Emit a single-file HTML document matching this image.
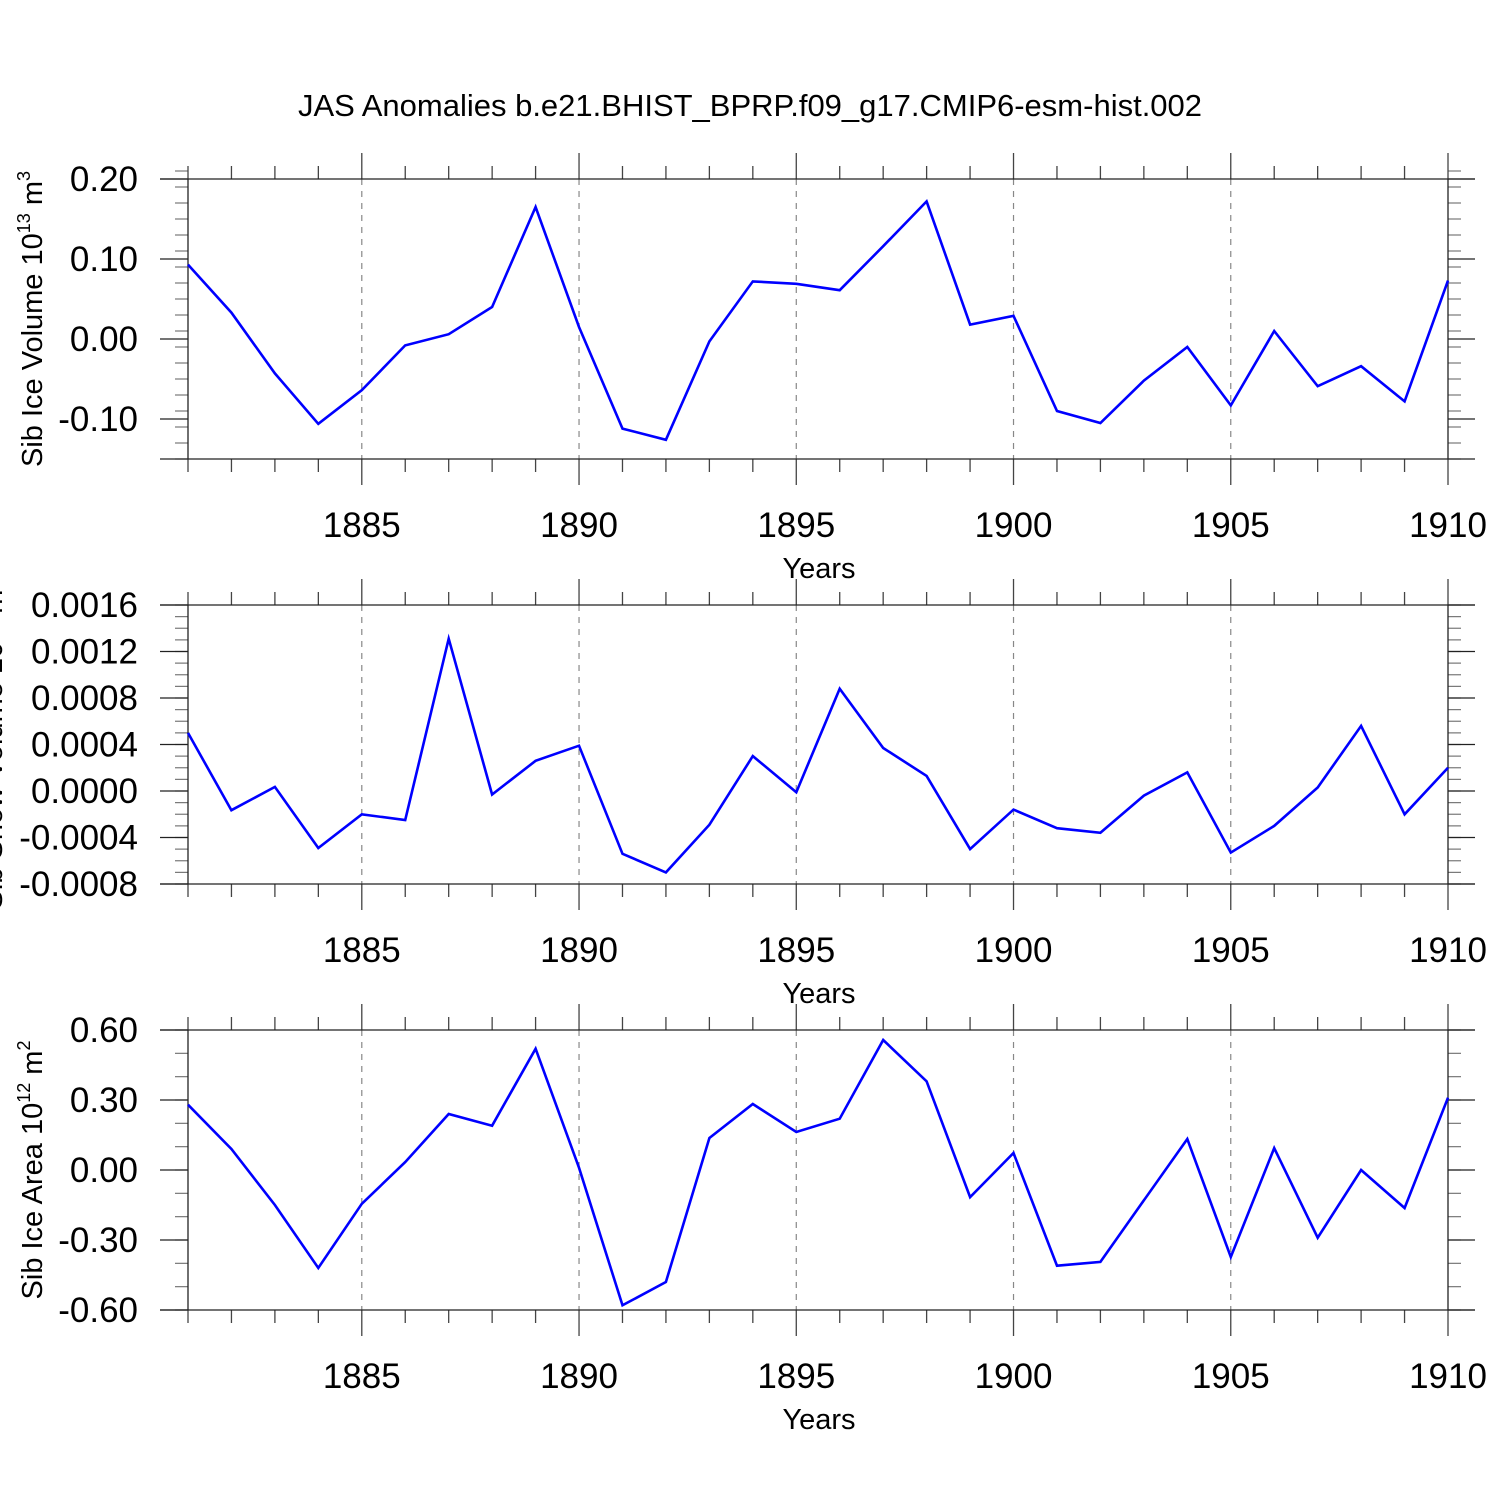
<!DOCTYPE html>
<html><head><meta charset="utf-8"><style>
html,body{margin:0;padding:0;background:#fff;}
svg{display:block;font-family:"Liberation Sans",sans-serif;}
</style></head><body>
<svg id="chart" width="1500" height="1500" viewBox="0 0 1500 1500" xmlns="http://www.w3.org/2000/svg">
<text x="750" y="116" font-size="31" text-anchor="middle">JAS Anomalies b.e21.BHIST_BPRP.f09_g17.CMIP6-esm-hist.002</text>
</svg>
<script>
const years = [1881,1882,1883,1884,1885,1886,1887,1888,1889,1890,1891,1892,1893,1894,1895,1896,1897,1898,1899,1900,1901,1902,1903,1904,1905,1906,1907,1908,1909,1910];
const xTicks = [1885,1890,1895,1900,1905,1910];
const iceVolume = [0.093,0.033,-0.043,-0.106,-0.064,-0.008,0.006,0.040,0.165,0.015,-0.112,-0.126,-0.003,0.072,0.069,0.061,0.116,0.172,0.018,0.029,-0.090,-0.105,-0.052,-0.010,-0.083,0.010,-0.059,-0.034,-0.078,0.073];
const snowVolume = [0.0005,-0.000165,0.000035,-0.00049,-0.0002,-0.00025,0.00131,-0.00003,0.00026,0.00039,-0.00054,-0.0007,-0.00029,0.0003,-0.00001,0.00088,0.00037,0.00013,-0.0005,-0.00016,-0.00032,-0.00036,-0.00004,0.00016,-0.00053,-0.0003,0.00003,0.00056,-0.0002,0.0002];
const iceArea = [0.28,0.09,-0.15,-0.42,-0.145,0.034,0.24,0.19,0.52,0.01,-0.58,-0.48,0.137,0.283,0.163,0.22,0.557,0.38,-0.116,0.073,-0.41,-0.394,-0.13,0.133,-0.373,0.094,-0.29,0.0,-0.163,0.31];
const volTicks = ["0.20","0.10","0.00","-0.10"];
const snowTicks = ["0.0016","0.0012","0.0008","0.0004","0.0000","-0.0004","-0.0008"];
const areaTicks = ["0.60","0.30","0.00","-0.30","-0.60"];

const NS="http://www.w3.org/2000/svg";
const svg=document.getElementById('chart');
function mk(tag,attrs,parent){const e=document.createElementNS(NS,tag);for(const k in attrs)e.setAttribute(k,attrs[k]);(parent||svg).appendChild(e);return e;}
const X0=188,X1=1448;
function xScale(yr){return X0+(yr-1881)/(1910-1881)*(X1-X0);}

const panels=[
 {name:'ice-volume',data:iceVolume,ticks:volTicks,top:179,bot:459,vmax:0.20,vmin:-0.15,minor:0.02,label:'Sib Ice Volume 10',sup:'13',unit:' m',sup2:'3',lx:42},
 {name:'snow-volume',data:snowVolume,ticks:snowTicks,top:605,bot:884,vmax:0.0016,vmin:-0.0008,minor:0.0001,label:'Sib Snow Volume 10',sup:'13',unit:' m',sup2:'3',lx:2},
 {name:'ice-area',data:iceArea,ticks:areaTicks,top:1030,bot:1310,vmax:0.60,vmin:-0.60,minor:0.1,label:'Sib Ice Area 10',sup:'12',unit:' m',sup2:'2',lx:42}
];
panels.forEach(p=>{
 const g=mk('g',{});
 
 
 const yS=v=>p.top+(p.vmax-v)/(p.vmax-p.vmin)*(p.bot-p.top);
 xTicks.forEach(t=>{ if(t<1910){const l=mk('line',{x1:xScale(t),x2:xScale(t),y1:p.top,y2:p.bot,stroke:'#888','stroke-width':1.2,'stroke-dasharray':'6,6'},g);
  }});
 const n=Math.round((p.vmax-p.vmin)/p.minor);
 for(let i=0;i<=n;i++){const v=p.vmin+i*p.minor,y=yS(v);
  mk('line',{x1:175,x2:X0,y1:y,y2:y,stroke:'#777','stroke-width':1.2},g);
  mk('line',{x1:X1,x2:1461,y1:y,y2:y,stroke:'#777','stroke-width':1.2},g);}
 p.ticks.forEach(t=>{const y=yS(parseFloat(t));
  mk('line',{x1:160,x2:X0,y1:y,y2:y,stroke:'#222','stroke-width':1.3},g);
  mk('line',{x1:X1,x2:1475,y1:y,y2:y,stroke:'#222','stroke-width':1.3},g);
  const tx=mk('text',{x:138,y:y+12,'font-size':35,'text-anchor':'end'},g);tx.textContent=t;
  });
 years.forEach(yr=>{const x=xScale(yr),maj=xTicks.includes(yr),len=maj?26:13;
  mk('line',{x1:x,x2:x,y1:p.top-len,y2:p.top,stroke:'#444','stroke-width':1.3},g);
  mk('line',{x1:x,x2:x,y1:p.bot,y2:p.bot+len,stroke:'#444','stroke-width':1.3},g);});
 xTicks.forEach(t=>{const tx=mk('text',{x:xScale(t),y:p.bot+78,'font-size':35,'text-anchor':'middle'},g);tx.textContent=t;
  });
 mk('line',{x1:160,x2:1475,y1:p.top,y2:p.top,stroke:'#222','stroke-width':1.3},g);
 mk('line',{x1:160,x2:1475,y1:p.bot,y2:p.bot,stroke:'#222','stroke-width':1.3},g);
 mk('line',{x1:X0,x2:X0,y1:p.top,y2:p.bot,stroke:'#222','stroke-width':1.3},g);
 mk('line',{x1:X1,x2:X1,y1:p.top,y2:p.bot,stroke:'#222','stroke-width':1.3},g);
 const xt=mk('text',{x:819,y:p.bot+119,'font-size':29,'text-anchor':'middle'},g);xt.textContent='Years';
 
 const cy=(p.top+p.bot)/2;
 const yt=mk('text',{x:p.lx,y:cy,'font-size':29,'text-anchor':'middle',transform:`rotate(-90 ${p.lx} ${cy})`},g);
 
 const a=mk('tspan',{},yt);a.textContent=p.label;
 const b=mk('tspan',{dy:-12,'font-size':18},yt);b.textContent=p.sup;
 const c=mk('tspan',{dy:12},yt);c.textContent=p.unit;
 const d=mk('tspan',{dy:-12,'font-size':18},yt);d.textContent=p.sup2;
 const pts=p.data.map((v,i)=>xScale(years[i]).toFixed(1)+','+yS(v).toFixed(1)).join(' ');
 const pl=mk('polyline',{points:pts,fill:'none',stroke:'#0000ff','stroke-width':2.6,'stroke-linejoin':'miter'},g);
 
 
});
</script>
</body></html>
